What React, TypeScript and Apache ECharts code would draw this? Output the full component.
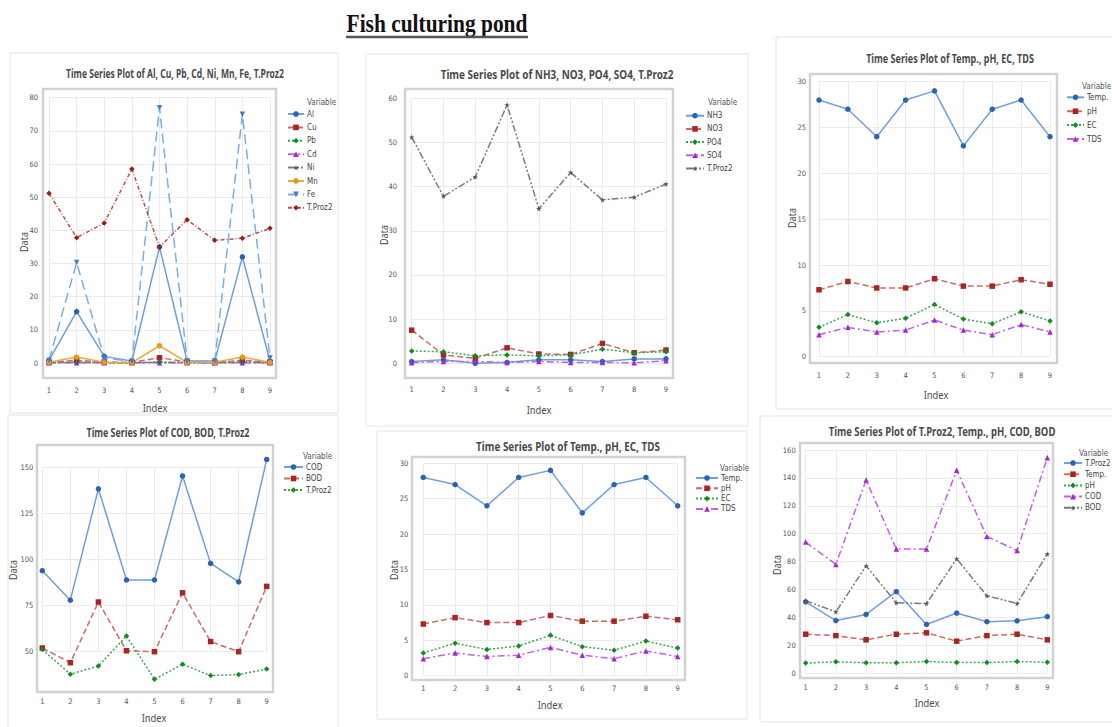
import React, { useEffect, useRef } from "react";
import * as echarts from "echarts";

// ---------- data ----------
const INDEX = ["1", "2", "3", "4", "5", "6", "7", "8", "9"];

const AL = [0.8, 15.5, 2.0, 0.6, 35, 0.6, 0.6, 32, 0.6];
const CU = [0.2, 0.8, 0.3, 0.2, 1.6, 0.3, 0.2, 0.8, 0.2];
const PB = [0.1, 0.3, 0.1, 0.1, 0.3, 0.1, 0.1, 0.3, 0.1];
const CD = [0.05, 0.1, 0.05, 0.05, 0.1, 0.05, 0.05, 0.1, 0.05];
const NI = [0.1, 0.2, 0.1, 0.1, 0.2, 0.1, 0.1, 0.2, 0.1];
const MN = [0.2, 1.8, 0.2, 0.1, 5.2, 0.2, 0.2, 1.8, 0.2];
const FE = [0.8, 30.3, 1.5, 0.5, 77, 0.6, 0.6, 75, 1.5];
const TPROZ2 = [51.2, 37.8, 42.2, 58.5, 35, 43.2, 37, 37.6, 40.6];

const NH3 = [0.4, 0.8, 0.0, 0.2, 0.8, 0.8, 0.4, 1.0, 1.0];
const NO3 = [7.5, 1.9, 1.1, 3.5, 2.1, 2.0, 4.5, 2.4, 3.0];
const PO4 = [2.8, 2.6, 1.7, 1.9, 1.7, 1.9, 3.2, 2.4, 2.6];
const SO4 = [0.15, 0.4, 0.4, 0.2, 0.4, 0.2, 0.2, 0.1, 0.6];

const TEMP = [28, 27, 24, 28, 29, 23, 27, 28, 24];
const PH = [7.3, 8.2, 7.5, 7.5, 8.5, 7.7, 7.7, 8.4, 7.9];
const EC = [3.2, 4.6, 3.7, 4.2, 5.7, 4.1, 3.6, 4.9, 3.9];
const TDS = [2.4, 3.2, 2.7, 2.9, 4.0, 2.9, 2.4, 3.5, 2.7];

const COD = [94, 78, 138.5, 89, 89, 145.5, 98, 88, 154.5];
const BOD = [52, 44, 77, 50.5, 50, 82, 55.5, 50, 85.5];

const PAGE_TITLE = "Fish culturing pond";

// ---------- styles ----------
const STAR =
  "path://M50,0 L61,35 L98,35 L68,57 L79,91 L50,70 L21,91 L32,57 L2,35 L39,35 Z";

const STYLES: Record<string, any> = {
  blue: { sym: "#2a63b0", line: "#6f9fdc", dash: "solid", symbol: "circle" },
  red: { sym: "#a52622", line: "#cc6a66", dash: [6, 3], symbol: "rect" },
  green: { sym: "#0e8c22", line: "#3aa84e", dash: [2, 2], symbol: "diamond" },
  purple: { sym: "#a326d4", line: "#bd62e6", dash: [7, 3, 2, 3], symbol: "triangle" },
  gray: { sym: "#555555", line: "#7a7a7a", dash: [7, 2, 2, 2, 2, 2], symbol: STAR },
  orange: { sym: "#e69a1a", line: "#eaa944", dash: "solid", symbol: "circle" },
  lightblue: { sym: "#3d7fd0", line: "#7aaee6", dash: [10, 5], symbol: "triangle", rotate: 180 },
  darkred: { sym: "#9a1c1c", line: "#b85050", dash: [4, 2, 1, 2], symbol: "diamond" },
};

// ---------- panel layouts ----------
const PANELS: any[] = [
  {
    title: "Time Series Plot of Al, Cu, Pb, Cd, Ni, Mn, Fe, T.Proz2",
    titleX: 175, titleY: 73, titleW: 218,
    box: [10, 53, 328, 360],
    frame: [43, 89, 233, 289],
    grid: [49, 97.7, 221, 265.3],
    yMin: 0, yMax: 80, yStep: 10, yMargin: 11, xMargin: 23,
    idxPos: [155, 408], dataPos: [24, 242],
    legend: { left: 287, top: 109.5, gap: 4.4, w: 16 }, varPos: [307, 102],
    series: [
      ["Al", AL, "blue"], ["Cu", CU, "red"], ["Pb", PB, "green"], ["Cd", CD, "purple"],
      ["Ni", NI, "gray"], ["Mn", MN, "orange"], ["Fe", FE, "lightblue"], ["T.Proz2", TPROZ2, "darkred"],
    ],
  },
  {
    title: "Time Series Plot of NH3, NO3, PO4, SO4, T.Proz2",
    titleX: 557, titleY: 74, titleW: 233,
    box: [366, 54, 382, 372],
    frame: [405, 89, 268, 289],
    grid: [411.7, 98.3, 254.3, 265],
    yMin: 0, yMax: 60, yStep: 10, yMargin: 14.7, xMargin: 21.7,
    idxPos: [539, 410], dataPos: [384, 235],
    legend: { left: 685, top: 111.2, gap: 4.2, w: 18 }, varPos: [708, 102],
    series: [
      ["NH3", NH3, "blue"], ["NO3", NO3, "red"], ["PO4", PO4, "green"], ["SO4", SO4, "purple"],
      ["T.Proz2", TPROZ2, "gray"],
    ],
  },
  {
    title: "Time Series Plot of Temp., pH, EC, TDS",
    titleX: 950, titleY: 58, titleW: 168,
    box: [776, 37, 340, 372],
    frame: [810, 74, 247, 289],
    grid: [819, 81.7, 231, 275],
    yMin: 0, yMax: 30, yStep: 5, yMargin: 13, xMargin: 14.3,
    idxPos: [936, 395], dataPos: [792, 218],
    legend: { left: 1066, top: 92.8, gap: 4.9, w: 17 }, varPos: [1082, 86],
    series: [["Temp.", TEMP, "blue"], ["pH", PH, "red"], ["EC", EC, "green"], ["TDS", TDS, "purple"]],
  },
  {
    title: "Time Series Plot of COD, BOD, T.Proz2",
    titleX: 168, titleY: 432, titleW: 163,
    box: [8, 415, 330, 320],
    frame: [37, 445, 236, 247],
    grid: [42.3, 467.7, 224.4, 184],
    yMin: 50, yMax: 150, yStep: 25, yMargin: 9, xMargin: 45.3,
    idxPos: [154, 718], dataPos: [13, 570],
    legend: { left: 283, top: 462.5, gap: 2.5, w: 19 }, varPos: [303, 456],
    series: [["COD", COD, "blue"], ["BOD", BOD, "red"], ["T.Proz2", TPROZ2, "green"]],
  },
  {
    title: "Time Series Plot of Temp., pH, EC, TDS",
    titleX: 568, titleY: 446, titleW: 184,
    box: [377, 431, 370, 288],
    frame: [412, 457, 273, 223],
    grid: [423.3, 463.3, 254.4, 212.4],
    yMin: 0, yMax: 30, yStep: 5, yMargin: 15, xMargin: 8.3,
    idxPos: [550, 705], dataPos: [394, 570],
    legend: { left: 695, top: 473.5, gap: 1.3, w: 22 }, varPos: [720, 468],
    series: [["Temp.", TEMP, "blue"], ["pH", PH, "red"], ["EC", EC, "green"], ["TDS", TDS, "purple"]],
  },
  {
    title: "Time Series Plot of T.Proz2, Temp., pH, COD, BOD",
    titleX: 942, titleY: 431, titleW: 227,
    box: [760, 416, 360, 306],
    frame: [800, 443, 253, 235],
    grid: [805.7, 450, 241.6, 223.3],
    yMin: 0, yMax: 160, yStep: 20, yMargin: 10, xMargin: 9.7,
    idxPos: [927, 703], dataPos: [777, 565],
    legend: { left: 1063, top: 458.5, gap: 2.2, w: 18 }, varPos: [1079, 453],
    series: [
      ["T.Proz2", TPROZ2, "blue"], ["Temp.", TEMP, "red"], ["pH", PH, "green"],
      ["COD", COD, "purple"], ["BOD", BOD, "gray"],
    ],
  },
];

const SMALL_FONT = "'DejaVu Sans Condensed', 'Liberation Sans Narrow', 'Noto Sans', sans-serif";
const TITLE_FONT = "'Noto Sans', 'Open Sans', sans-serif";

function measure(text: string, font: string): number {
  const c = document.createElement("canvas");
  const ctx = c.getContext("2d");
  if (!ctx) return text.length * 7;
  ctx.font = font;
  return ctx.measureText(text).width;
}

function buildOption() {
  const grids: any[] = [];
  const xAxes: any[] = [];
  const yAxes: any[] = [];
  const legends: any[] = [];
  const series: any[] = [];
  const graphics: any[] = [];

  // page title
  const ptFont = "bold 25px 'Liberation Serif', 'DejaVu Serif', serif";
  const ptW = measure(PAGE_TITLE, ptFont);
  graphics.push({
    type: "text",
    x: 437,
    y: 23,
    scaleX: 181 / ptW,
    z: 10,
    style: {
      text: PAGE_TITLE,
      fill: "#111",
      fontSize: 25,
      fontWeight: "bold",
      fontFamily: "'Liberation Serif', 'DejaVu Serif', serif",
      textAlign: "center",
      textVerticalAlign: "middle",
    },
  });
  graphics.push({
    type: "line",
    z: 10,
    shape: { x1: 346, y1: 37, x2: 528, y2: 37 },
    style: { stroke: "#555", lineWidth: 2.5 },
  });

  PANELS.forEach((p, i) => {
    const pid = "p" + (i + 1);
    graphics.push({
      type: "rect",
      z: 0,
      shape: { x: p.box[0], y: p.box[1], width: p.box[2], height: p.box[3] },
      style: { fill: "#fff", stroke: "#e4e4e4", lineWidth: 1 },
    });
    graphics.push({
      type: "rect",
      z: 1,
      shape: { x: p.frame[0], y: p.frame[1], width: p.frame[2], height: p.frame[3] },
      style: { fill: "none", stroke: "#d2d2d2", lineWidth: 2.5 },
    });
    const tFont = "bold 13px 'Noto Sans'";
    const tw = measure(p.title, tFont);
    graphics.push({
      type: "text",
      x: p.titleX,
      y: p.titleY,
      scaleX: p.titleW / tw,
      z: 5,
      style: {
        text: p.title,
        fill: "#4a4a4a",
        fontSize: 13,
        fontWeight: "bold",
        fontFamily: TITLE_FONT,
        textAlign: "center",
        textVerticalAlign: "middle",
      },
    });
    graphics.push({
      type: "text",
      x: p.idxPos[0],
      y: p.idxPos[1],
      scaleX: 0.85,
      z: 5,
      style: {
        text: "Index",
        fill: "#4a4a4a",
        fontSize: 11,
        fontFamily: TITLE_FONT,
        textAlign: "center",
        textVerticalAlign: "middle",
      },
    });
    graphics.push({
      type: "text",
      x: p.dataPos[0],
      y: p.dataPos[1],
      rotation: Math.PI / 2,
      scaleX: 0.9,
      z: 5,
      style: {
        text: "Data",
        fill: "#4a4a4a",
        fontSize: 10,
        fontFamily: TITLE_FONT,
        textAlign: "center",
        textVerticalAlign: "middle",
      },
    });
    graphics.push({
      type: "text",
      x: p.varPos[0],
      y: p.varPos[1],
      z: 5,
      style: {
        text: "Variable",
        fill: "#555",
        fontSize: 8,
        fontFamily: SMALL_FONT,
        textAlign: "left",
        textVerticalAlign: "middle",
      },
    });

    grids.push({
      left: p.grid[0],
      top: p.grid[1],
      width: p.grid[2],
      height: p.grid[3],
      containLabel: false,
    });
    xAxes.push({
      type: "category",
      gridIndex: i,
      data: INDEX,
      boundaryGap: false,
      axisLine: { show: false },
      axisTick: { show: false },
      axisLabel: { fontSize: 7.5, color: "#555", margin: p.xMargin, fontFamily: SMALL_FONT },
      splitLine: { show: true, lineStyle: { color: "#ebebeb", width: 1 } },
    });
    yAxes.push({
      type: "value",
      gridIndex: i,
      min: p.yMin,
      max: p.yMax,
      interval: p.yStep,
      axisLine: { show: false },
      axisTick: { show: false },
      axisLabel: { fontSize: 7.5, color: "#555", margin: p.yMargin, fontFamily: SMALL_FONT },
      splitLine: { show: true, lineStyle: { color: "#ebebeb", width: 1 } },
    });

    const names: string[] = [];
    p.series.forEach((s: any[]) => {
      const st = STYLES[s[2]];
      const name = pid + "|" + s[0];
      names.push(name);
      series.push({
        name,
        type: "line",
        xAxisIndex: i,
        yAxisIndex: i,
        data: s[1],
        clip: false,
        symbol: st.symbol,
        symbolSize: 5.5,
        symbolRotate: st.rotate || 0,
        showSymbol: true,
        showAllSymbol: true,
        itemStyle: { color: st.sym },
        lineStyle: { color: st.line, width: 1.5, type: st.dash },
        emphasis: { disabled: true },
        z: 3,
      });
    });

    legends.push({
      orient: "vertical",
      left: p.legend.left,
      top: p.legend.top,
      itemWidth: p.legend.w,
      itemHeight: 7,
      itemGap: p.legend.gap,
      padding: 0,
      selectedMode: false,
      data: names,
      formatter: (n: string) => n.split("|")[1],
      textStyle: { fontSize: 8, color: "#444", lineHeight: 9, fontFamily: SMALL_FONT, padding: [0, 0, 0, -2] },
    });
  });

  return {
    animation: false,
    backgroundColor: "#ffffff",
    grid: grids,
    xAxis: xAxes,
    yAxis: yAxes,
    legend: legends,
    series,
    graphic: { elements: graphics },
  };
}

export default function App() {
  const ref = useRef<HTMLDivElement>(null);
  useEffect(() => {
    if (!ref.current) return;
    const chart = echarts.init(ref.current, undefined, { renderer: "svg" });
    chart.setOption(buildOption() as any);
    return () => chart.dispose();
  }, []);
  return (
    <div
      ref={ref}
      style={{ position: "absolute", left: 0, top: 0, width: 1112, height: 727, background: "#fff" }}
    />
  );
}
